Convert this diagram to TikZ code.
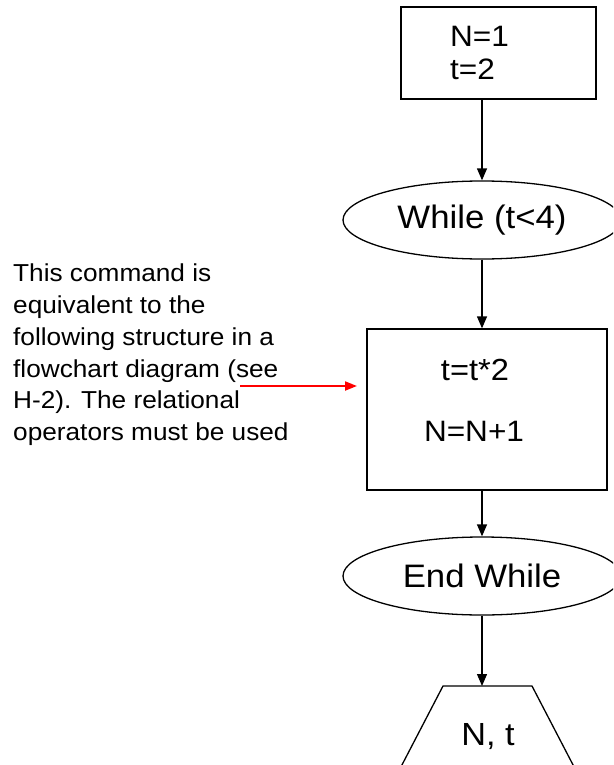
\documentclass[tikz,border=0pt]{standalone}
\usepackage{fontspec}
\setmainfont{Liberation Sans}[FakeStretch=1.07]
\usetikzlibrary{shapes.geometric,arrows.meta}

\tikzset{
  line/.style={line width=1.3pt, draw=black},
  flow/.style={line, -{Triangle[length=12pt,width=10pt]}},
  procbox/.style={line, rectangle, inner sep=0pt},
  loopell/.style={line, ellipse, inner sep=0pt, minimum width=278pt,
    minimum height=78pt, font=\fontsize{32.5}{34}\selectfont},
  boxtext/.style={inner sep=0pt, font=\fontsize{29.5}{33}\selectfont},
  note/.style={inner sep=0pt, align=left, anchor=north west,
    font=\fontsize{24.5}{31.7}\selectfont},
  pointer/.style={line width=2pt, draw=red,
    -{Triangle[length=12pt,width=9pt]}}
}

\begin{document}
\begin{tikzpicture}[x=1pt, y=-1pt]
  \useasboundingbox (0,0) rectangle (613,765);
  \clip (0,0) rectangle (613,765);
  \fill[white] (0,0) rectangle (613,765);

  % initialisation block
  \node[procbox, minimum width=195pt, minimum height=92pt] (init) at (498.5,53) {};
  \node[boxtext, anchor=west, align=left] (initvals) at (450,53) {N=1\\t=2};

  % loop head
  \node[loopell] (loop) at (482,220) {While (t<4)};

  % loop body
  \node[procbox, minimum width=240pt, minimum height=161pt] (body) at (487,409.5) {};
  \node[boxtext, font=\fontsize{30.5}{33}\selectfont] (stepa) at (475,370) {t=t*2};
  \node[boxtext] (stepb) at (474,431) {N=N+1};

  % loop end
  \node[loopell] (endloop) at (482,576) {End While};

  % output block (trapezium running past the lower edge)
  \coordinate (outtop) at (482,686);
  \draw[line, line join=miter] (391,786) -- (443,686) -- (532,686) -- (584,786);
  \node[inner sep=0pt, font=\fontsize{32}{34}\selectfont] (outtext) at (488,737) {N, t};

  % connectors
  \draw[flow] (init.south -| loop.north) -- (loop.north);
  \draw[flow] (loop.south) -- (loop.south |- body.north);
  \draw[flow] (body.south -| endloop.north) -- (endloop.north);
  \draw[flow] (endloop.south) -- (outtop);

  % explanatory note
  \node[note] (expl) at (13,264) {This command is\\equivalent to the\\following structure in a\\flowchart diagram (see\\H-2). The relational\\operators must be used};
  \coordinate (ptrstart) at (240,386);
  \coordinate (ptrend) at (357,386);
  \draw[pointer] (ptrstart) -- (ptrend);
\end{tikzpicture}
\end{document}
